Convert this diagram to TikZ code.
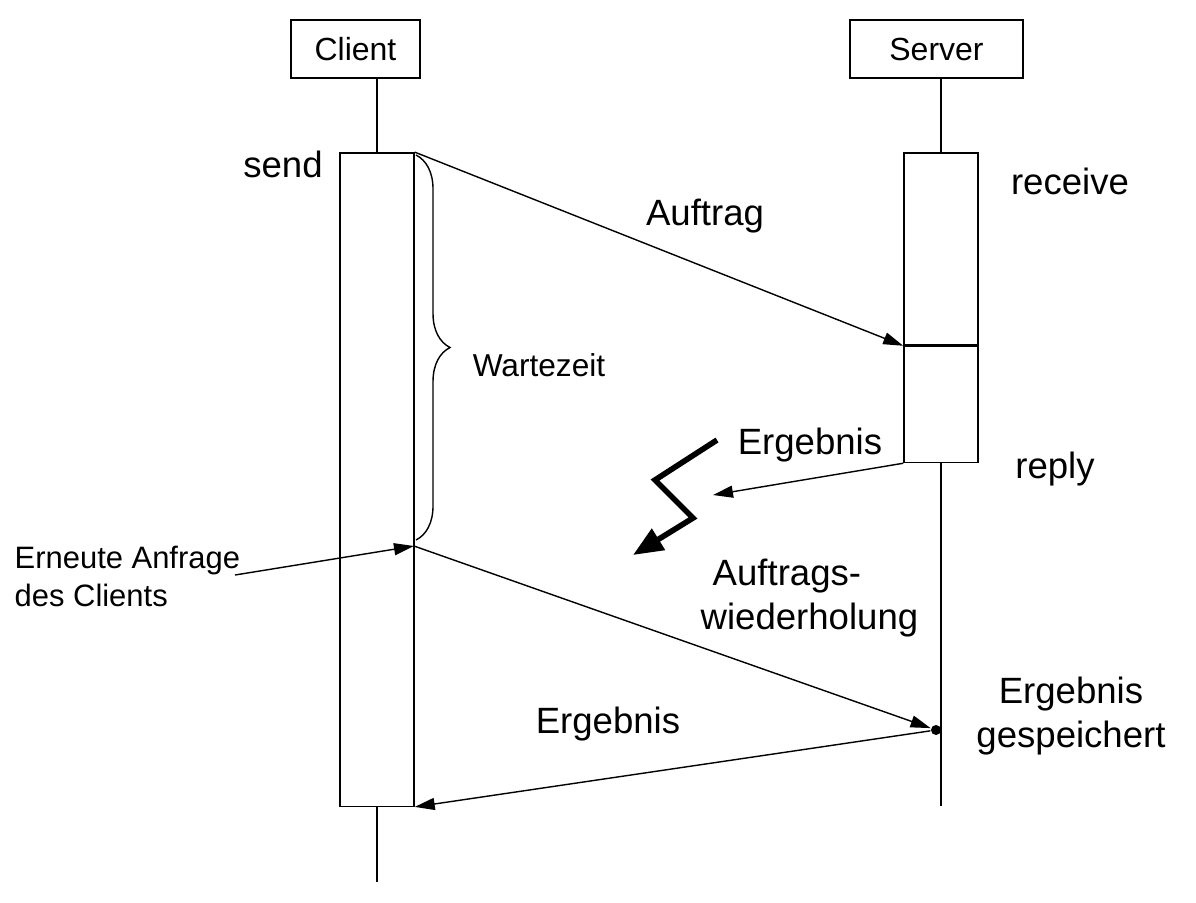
\documentclass[tikz,border=0pt]{standalone}
\usepackage{fontspec}
\setmainfont{Liberation Sans}
\usetikzlibrary{arrows.meta,decorations.pathreplacing}
\tikzstyle{actor}=[draw,thin,minimum height=0.58cm,inner sep=0pt,font=\fontsize{9.1}{11}\selectfont]
\tikzstyle{activation}=[draw,thin,fill=white,minimum width=0.74cm,inner sep=0pt]
\tikzstyle{msg}=[thin,-{Triangle[length=2mm,width=1.2mm]}]
\tikzstyle{bolt}=[line width=1.6pt,-{Triangle[length=3mm,width=2.4mm]}]
\tikzstyle{biglabel}=[font=\fontsize{10.4}{12.6}\selectfont,inner sep=0pt]
\tikzstyle{smalllabel}=[font=\fontsize{8.8}{10.8}\selectfont,inner sep=0pt]

\begin{document}
\begin{tikzpicture}[x=0.01cm,y=-0.01cm]
\useasboundingbox (0,0) rectangle (1196,902);
% heads
\node[actor,minimum width=1.29cm] (client) at (355.5,49) {Client};
\node[actor,minimum width=1.73cm] (server) at (936.5,49) {Server};
% activations
\node[activation,minimum height=6.53cm] (clientact) at (377,479.5) {};
\node[activation,minimum height=1.92cm] (servrecv) at (941,249) {};
\node[activation,minimum height=1.16cm,anchor=north] (servwork) at (servrecv.south) {};
% lifelines
\coordinate (clientend) at (377,882);
\coordinate (serverend) at (941,806);
\draw[thin] (client.south -| clientact.north) -- (clientact.north);
\draw[thin] (clientact.south) -- (clientend);
\draw[thin] (server.south -| servrecv.north) -- (servrecv.north);
\draw[thin] (servwork.south) -- (serverend);
\node[fill,circle,inner sep=0pt,minimum size=0.1cm] (saved) at (936,730) {};
% messages
\coordinate (replyend) at (713,495);
\coordinate (askstart) at (235,575);
\coordinate (resend) at (414,546);
\draw[msg] (clientact.north east) -- (servrecv.south west);
\draw[msg] (servwork.south west) -- (replyend);
\draw[msg] (askstart) -- (resend);
\draw[msg] (resend) -- (saved);
\draw[msg] (saved) -- (clientact.south east);
\draw[thin,decorate,decoration={brace,amplitude=0.34cm}] (416,155) -- (416,540);
\draw[bolt] (717,440) -- (655,480) -- (693,518) -- (633,555);
% labels
\node[biglabel,anchor=base] (sendlbl) at (283,177) {send};
\node[biglabel,anchor=base] (recvlbl) at (1070,194) {receive};
\node[biglabel,anchor=base] (jobrlbl) at (705,225) {Auftrag};
\node[inner sep=0pt,anchor=base,font=\fontsize{9}{10}\selectfont] (waitlbl) at (539,376) {Wartezeit};
\node[biglabel,anchor=base] (reslbl) at (810,454) {Ergebnis};
\node[biglabel,anchor=base] (replylbl) at (1055,478) {reply};
\node[smalllabel,anchor=north west,align=left] (asklbl) at (14,545) {Erneute Anfrage\\des Clients};
\node[biglabel,anchor=north west,align=left] (repeatlbl) at (700,558) {\hspace*{0.12cm}Auftrags-\\wiederholung};
\node[biglabel,anchor=north,align=center] (savedlbl) at (1071,676) {Ergebnis\\gespeichert};
\node[biglabel,anchor=base] (backlbl) at (608,733) {Ergebnis};
\end{tikzpicture}
\end{document}
